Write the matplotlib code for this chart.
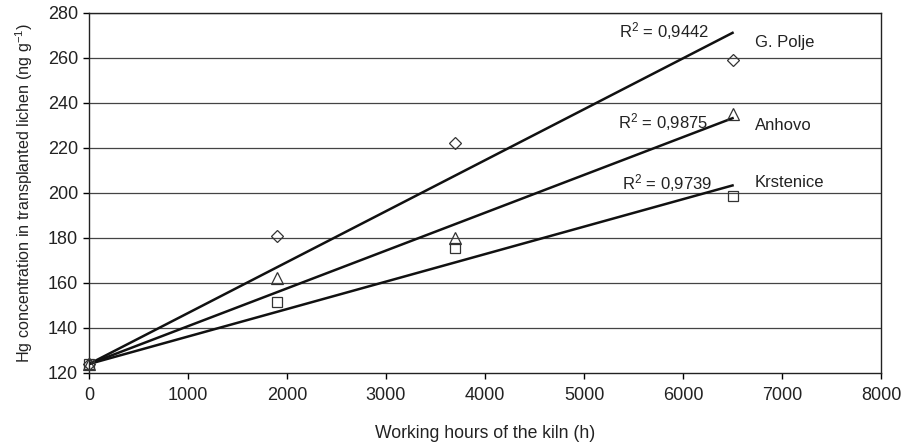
import numpy as np
import matplotlib.pyplot as plt

plt.rcParams['font.family'] = ['Liberation Sans', 'DejaVu Sans']
plt.rcParams['mathtext.fontset'] = 'custom'
plt.rcParams['mathtext.rm'] = 'Liberation Sans'

hours = np.array([0, 1900, 3700, 6500])
polje = np.array([124, 181, 222, 259])
anhovo = np.array([124, 162, 180, 235])
krstenice = np.array([124, 151.5, 175.5, 198.5])

names = ['G. Polje', 'Anhovo', 'Krstenice']
r2_labels = ['0,9442', '0,9875', '0,9739']
markers = ['D', '^', 's']


def trend(x, y):
    # linear fit forced through the first (start) value
    y0 = y[0]
    k = np.sum(x * (y - y0)) / np.sum(x * x)
    return y0, k


fig = plt.figure(figsize=(9.13, 4.45), dpi=100)
ax = fig.add_axes([0.0975, 0.1618, 0.8675, 0.809])

for y in [140, 160, 180, 200, 220, 240, 260, 280]:
    ax.axhline(y, color='#444444', lw=0.9, zorder=0)

label_pos = [(6727, 267), (6727, 230), (6727, 204.5)]
r2_pos = [(5810, 272), (5800, 231.5), (5835, 204.5)]
msize = [6, 8, 7.5]

for i, y in enumerate([polje, anhovo, krstenice]):
    ax.plot(hours, y, linestyle='none', marker=markers[i], markersize=msize[i],
            markerfacecolor='none', markeredgecolor='#333333', markeredgewidth=0.9,
            zorder=3, clip_on=False)
    y0, k = trend(hours, y)
    xx = np.array([0, hours[-1]])
    ax.plot(xx, y0 + k * xx, color='#111111', lw=1.8, zorder=2)
    ax.text(label_pos[i][0], label_pos[i][1], names[i], fontsize=12, color='#222222',
            ha='left', va='center')
    ax.text(r2_pos[i][0], r2_pos[i][1], '$\\mathregular{R^2}$ = ' + r2_labels[i], fontsize=12,
            color='#222222', ha='center', va='center')

ax.set_xlim(0, 8000)
ax.set_ylim(120, 280)
ax.set_xticks(np.arange(0, 8001, 1000))
ax.set_yticks(np.arange(120, 281, 20))
ax.tick_params(direction='out', length=4, width=1, labelsize=13, labelcolor='#222222', pad=4)
ax.tick_params(axis='x', pad=6)
for s in ax.spines.values():
    s.set_color('#222222')
    s.set_linewidth(1)

ax.set_xlabel('Working hours of the kiln (h)', fontsize=12.7, color='#222222', labelpad=15)
ax.set_ylabel('Hg concentration in transplanted lichen (ng g$\\mathregular{^{-1}}$)', fontsize=11.6,
              color='#222222', labelpad=9)

fig.savefig('out.png', dpi=100)
